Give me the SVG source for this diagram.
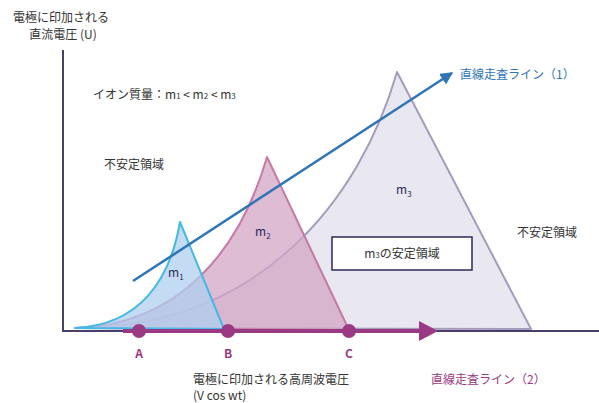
<svg xmlns="http://www.w3.org/2000/svg" width="599" height="403" viewBox="0 0 599 403">
<defs>
<style>
text{font-family:"Noto Sans CJK JP","Noto Sans",sans-serif;font-size:12px;fill:#333}
.lbl{fill:#2b2a5a;font-size:12px}
.sub{font-size:8px}
.pt{fill:#9b3a84;font-size:12px;font-weight:bold;text-anchor:middle}
.axis{stroke:#4a3f6b;stroke-width:2;fill:none}
</style>
<marker id="ab" viewBox="0 0 10 10" refX="9" refY="5" markerWidth="5" markerHeight="5" markerUnits="strokeWidth" orient="auto"><path d="M0,0L10,5L0,10Z" fill="#2f75b8"/></marker>
</defs>
<rect width="599" height="403" fill="#fff"/>
<g id="axes">
<path class="axis" d="M63,50V331H599"/>
</g>
<g id="m3">
<path d="M75,328C260,328 360,200 397,72L531,329Z" fill="#e9e7f0" stroke="#a49cbc" stroke-width="2" stroke-linejoin="round"/>
</g>
<g id="m2">
<path d="M75,328C180,325 240,250 267,157L349,330Z" fill="#d3a6c6" fill-opacity="0.75" stroke="#c47aa5" stroke-width="2" stroke-linejoin="round"/>
</g>
<g id="m1">
<path d="M75,328C140,325 170,280 180,222L224,329Z" fill="#b0cff0" fill-opacity="0.75" stroke="#45b8e4" stroke-width="2" stroke-linejoin="round"/>
</g>
<g id="connectors">
<line x1="133" y1="281" x2="452" y2="73" stroke="#2f75b8" stroke-width="2.5" marker-end="url(#ab)"/>
<line x1="123" y1="331" x2="422" y2="331" stroke="#9b3a84" stroke-width="4"/>
<path d="M419,321L438,331L419,341Z" fill="#9b3a84"/>
<circle cx="139" cy="331" r="7" fill="#9b3a84"/>
<circle cx="228" cy="331" r="7" fill="#9b3a84"/>
<circle cx="349" cy="331" r="7" fill="#9b3a84"/>
</g>
<g id="texts">
<text x="61" y="22" text-anchor="middle" font-size="13">電極に印加される</text>
<text x="63" y="39" text-anchor="middle" font-size="13">直流電圧 (U)</text>
<text x="93" y="99">イオン質量：m<tspan class="sub">1</tspan> &lt; m<tspan class="sub">2</tspan> &lt; m<tspan class="sub">3</tspan></text>
<text x="104" y="169">不安定領域</text>
<text x="517" y="237">不安定領域</text>
<text class="lbl" x="168" y="277">m<tspan class="sub" dy="3">1</tspan></text>
<text class="lbl" x="255" y="236">m<tspan class="sub" dy="3">2</tspan></text>
<text class="lbl" x="396" y="194">m<tspan class="sub" dy="3">3</tspan></text>
<text x="460" y="79" style="fill:#2f75b8">直線走査ライン（1）</text>
<text x="431" y="384" style="fill:#9b3a84">直線走査ライン（2）</text>
<text class="pt" x="139" y="358">A</text>
<text class="pt" x="228" y="358">B</text>
<text class="pt" x="349" y="358">C</text>
<text x="193" y="384">電極に印加される高周波電圧</text>
<text x="193" y="400">(V cos wt)</text>
</g>
<g id="box">
<rect x="332" y="237" width="140" height="33" fill="#fff" stroke="#2b2a5a" stroke-width="1.5"/>
<text x="402" y="258" text-anchor="middle">m<tspan class="sub">3</tspan>の安定領域</text>
</g>
</svg>
